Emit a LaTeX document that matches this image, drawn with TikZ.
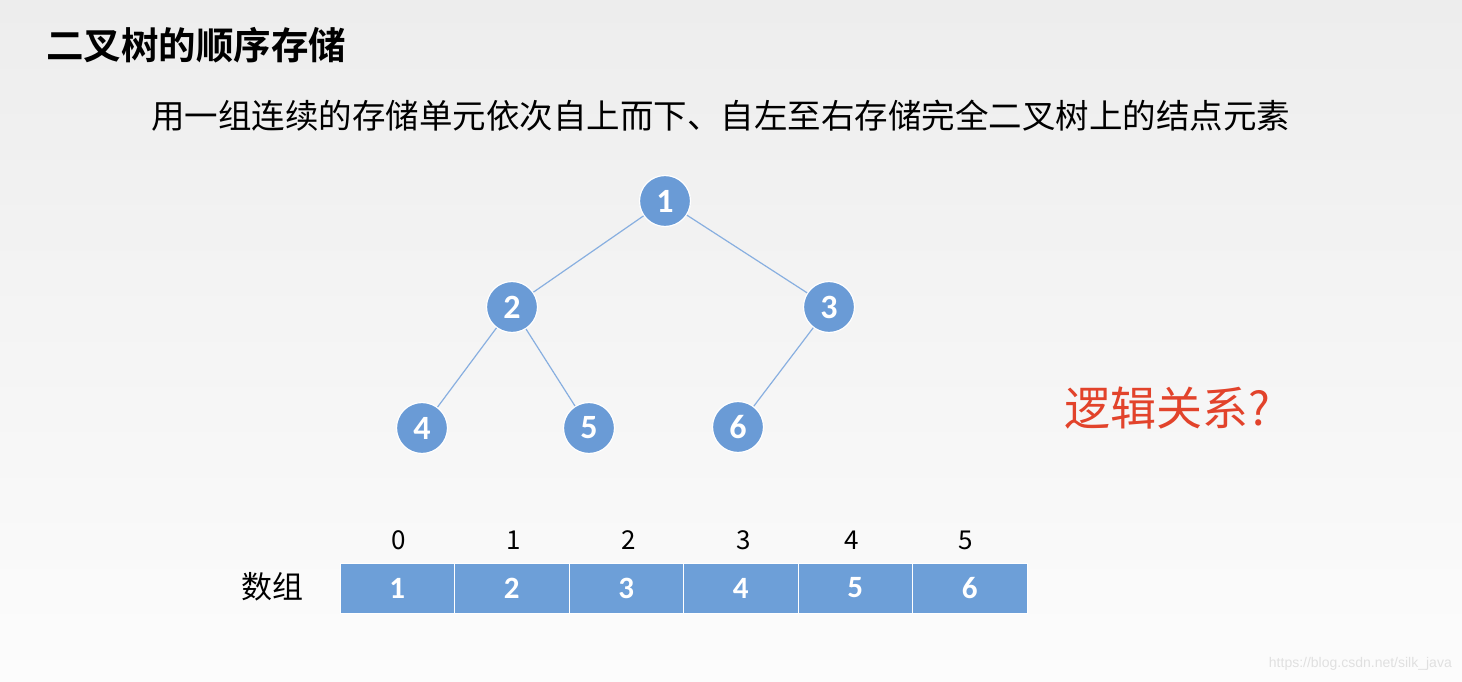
\documentclass[tikz,border=0pt]{standalone}
\usepackage{fontspec}
\setmainfont{Carlito}
\newfontfamily\cjk{Noto Sans CJK SC}
\newfontfamily\cjkbold{Noto Sans CJK SC Bold}
\newfontfamily\wm{Liberation Sans}
\definecolor{nodeblue}{HTML}{6A9BD6}
\definecolor{cellblue}{HTML}{6D9FD8}
\definecolor{edgeblue}{HTML}{88AFE0}
\definecolor{redtxt}{HTML}{E2432B}
\definecolor{bgtop}{HTML}{EDEDED}
\definecolor{bgbot}{HTML}{FCFCFC}
\tikzset{
  treenode/.style={circle, minimum size=51pt, inner sep=0pt, fill=nodeblue, draw=white, line width=1.2pt,
    text=white, font=\fontsize{34}{36}\selectfont\bfseries},
  treeedge/.style={draw=edgeblue, line width=1.2pt},
  cell/.style={rectangle, minimum width=114.5pt, minimum height=50pt, inner sep=0pt, fill=cellblue,
    draw=white, line width=1pt, text=white, font=\fontsize{31}{33}\selectfont\bfseries},
  idx/.style={inner sep=0pt, font=\cjk\fontsize{26}{28}\selectfont, text=black}
}
\begin{document}
\begin{tikzpicture}[x=1pt,y=-1pt]
\shade[top color=bgtop, bottom color=bgbot] (0,0) rectangle (1462,682);
\useasboundingbox (0,0) rectangle (1462,682);

\node[anchor=west, inner sep=0pt, font=\cjkbold\fontsize{37.5}{40}\selectfont] (title) at (46,45) {二叉树的顺序存储};
\node[anchor=west, inner sep=0pt, font=\cjk\fontsize{33.5}{38}\selectfont] (sub) at (151,116)
  {用一组连续的存储单元依次自上而下、自左至右存储完全二叉树上的结点元素};

\node[treenode] (n1) at (665,201) {1};
\node[treenode] (n2) at (512,307) {2};
\node[treenode] (n3) at (829,307) {3};
\node[treenode] (n4) at (422,428) {4};
\node[treenode] (n5) at (589,428) {5};
\node[treenode] (n6) at (738,427) {6};
\draw[treeedge] (n1) -- (n2);
\draw[treeedge] (n1) -- (n3);
\draw[treeedge] (n2) -- (n4);
\draw[treeedge] (n2) -- (n5);
\draw[treeedge] (n3) -- (n6);

\node[anchor=west, inner sep=0pt, text=redtxt, font=\cjk\fontsize{46}{50}\selectfont] (q) at (1064,408) {逻辑关系?};

\node[cell] (c1) at (397.25,588) {1};
\node[cell] (c2) at (511.75,588) {2};
\node[cell] (c3) at (626.25,588) {3};
\node[cell] (c4) at (740.75,588) {4};
\node[cell] (c5) at (855.25,588) {5};
\node[cell] (c6) at (969.75,588) {6};

\node[idx] (i0) at (399,540) {0};
\node[idx] (i1) at (514,540) {1};
\node[idx] (i2) at (629,540) {2};
\node[idx] (i3) at (744,540) {3};
\node[idx] (i4) at (852,540) {4};
\node[idx] (i5) at (966,540) {5};

\node[idx, font=\cjk\fontsize{31}{34}\selectfont] (arr) at (272,587) {数组};

\node[anchor=east, inner sep=0pt, text=black!12, font=\wm\fontsize{14}{16}\selectfont] (wmk) at (1452,664) {https://blog.csdn.net/silk\_java};
\end{tikzpicture}
\end{document}
